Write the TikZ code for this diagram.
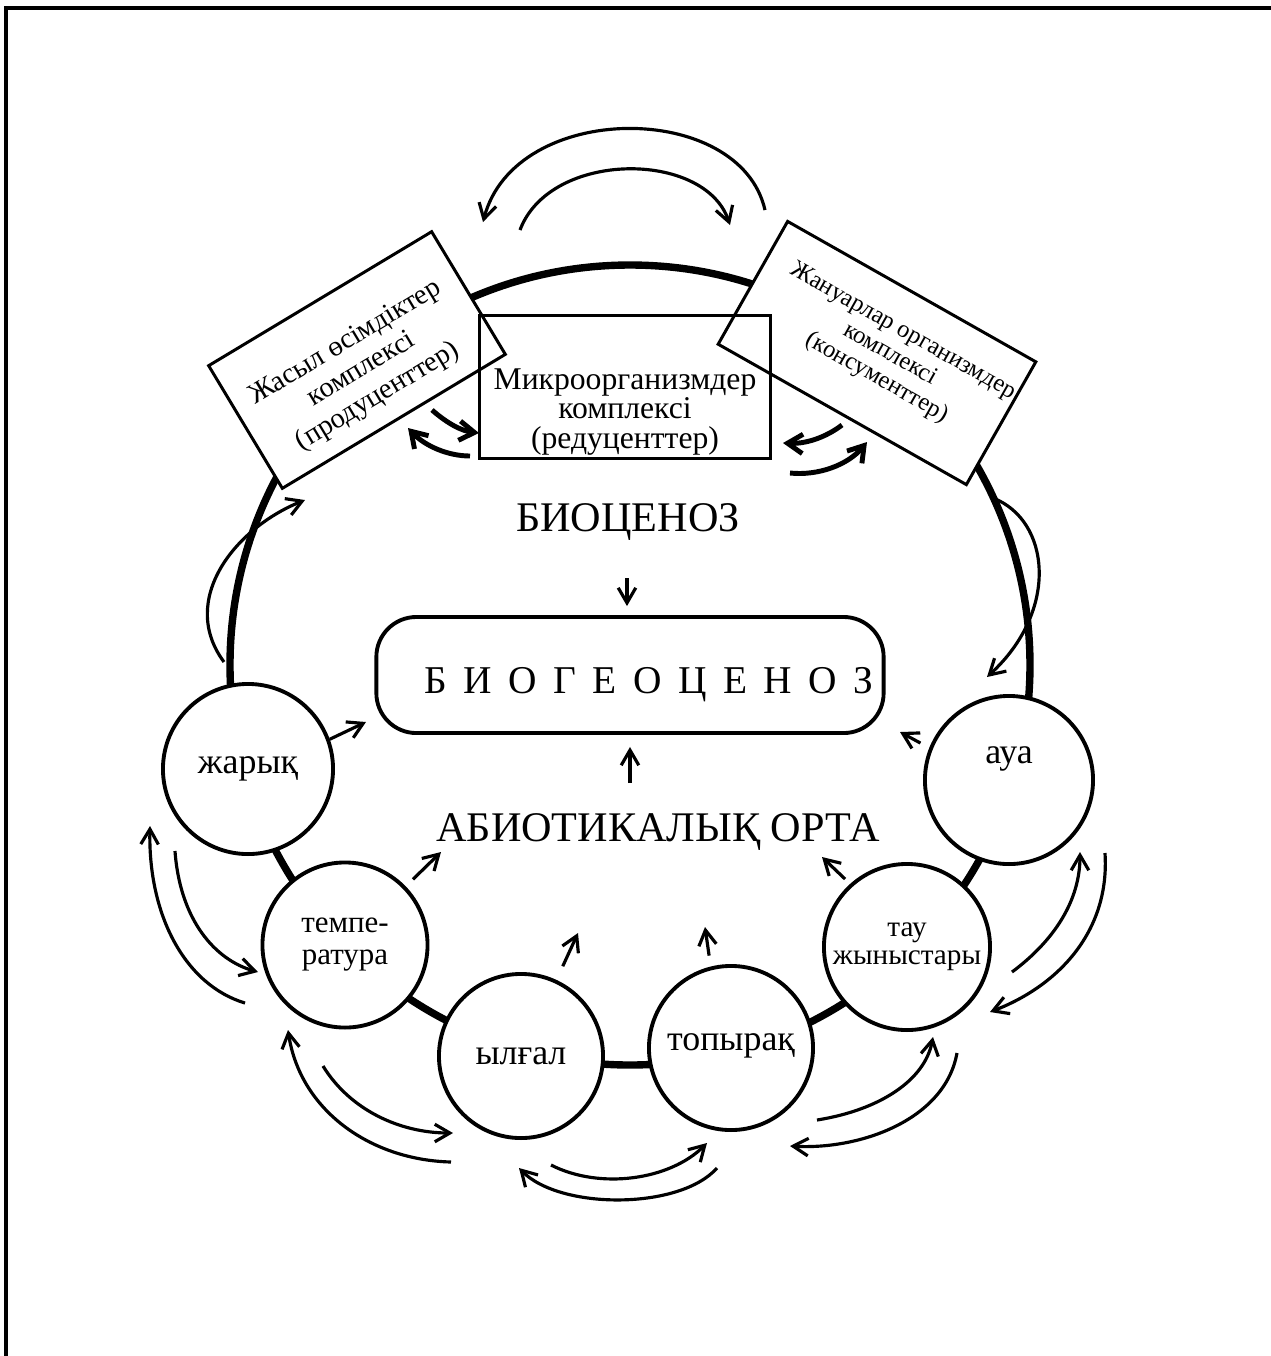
\documentclass[tikz,border=0pt]{standalone}
\usepackage{fontspec}
\setmainfont{Liberation Serif}
\usetikzlibrary{arrows.meta}

\tikzset{
  ring/.style={line width=2.1pt},
  factor/.style={circle, draw, fill=white, line width=1.1pt, inner sep=0pt,
    align=center, font=\rmfamily\fontsize{10.2}{10.2}\selectfont},
  complexbox/.style={rectangle, fill=white, inner sep=0pt, outer sep=0pt},
  boxline/.style={line width=0.85pt, line join=miter},
  boxtext/.style={align=center, inner sep=0pt, font=\rmfamily\fontsize{9}{8.3}\selectfont},
  flow/.style={line width=0.9pt, -{Straight Barb[length=4.3pt,width=5pt]}},
  exchange/.style={line width=1.4pt, -{Straight Barb[length=4.3pt,width=5.5pt]}},
  heading/.style={font=\rmfamily\fontsize{12}{14}\selectfont, inner sep=0pt},
}

\begin{document}
\begin{tikzpicture}[x=0.01cm, y=-0.01cm]
\useasboundingbox (0,0) rectangle (1271,1356);

% frame, top and left edges
\draw[line width=1.1pt] (1271,8) -- (6,8) -- (6,1356);

% ============================================================
% Ring joining every component of the ecosystem
\draw[ring] (630,665) circle[radius=400];

% Biocenosis: three complexes (white fill first, outlines after, they overlap)
\node[complexbox, rotate=31, minimum width=2.6cm, minimum height=1.43cm] (plantbox) at (357,360) {};
\node[complexbox, minimum width=2.9cm, minimum height=1.42cm] (microbox) at (625,387) {};
\node[complexbox, rotate=-29.5, minimum width=2.85cm, minimum height=1.41cm] (animalbox) at (877,353) {};
\foreach \b in {plantbox, microbox, animalbox}
  \draw[boxline] (\b.north west) -- (\b.north east) -- (\b.south east) -- (\b.south west) -- cycle;

\node[boxtext, rotate=31, font=\rmfamily\fontsize{8.1}{8.9}\selectfont] (planttext) at (362,370)
  {Жасыл өсімдіктер\\комплексі\\(продуценттер)};
\node[boxtext] (microtext) at (625,412)
  {Микроорганизмдер\\комплексі\\(редуценттер)};
\node[boxtext, rotate=-29.5, font=\rmfamily\fontsize{7.0}{7.6}\selectfont] (animaltext) at (890,355)
  {Жануарлар организмдер\\комплексі\\(консументтер)};

% ============================================================
% Abiotic factors on the ring
\node[factor, minimum size=1.7cm] (light) at (248,769) {жарық};
\node[factor, minimum size=1.65cm, font=\rmfamily\fontsize{8.8}{9.1}\selectfont] (temp) at (345,945) {темпе-\\ратура};
\node[factor, minimum size=1.64cm] (moisture) at (521,1056) {ылғал};
\node[factor, minimum size=1.64cm, text height=0.1cm, text depth=0.05cm] (soil) at (731,1048) {топырақ};
\node[factor, minimum size=1.66cm, font=\rmfamily\fontsize{8.3}{8}\selectfont] (rocks) at (907,947) {тау\\жыныстары};
\node[factor, minimum size=1.68cm, text depth=0.5cm] (air) at (1009,780) {ауа};

% Centre: headings and the biogeocenosis
\node[heading] (bioc) at (628,522) {БИОЦЕНОЗ};
\node[draw, line width=1.1pt, rounded corners=0.4cm, minimum width=5.07cm, minimum height=1.16cm,
  text width=4.87cm, inner xsep=0.1cm, align=right, text height=0.36cm, text depth=0cm,
  font=\rmfamily\fontsize{11.2}{12}\selectfont\addfontfeature{LetterSpace=42}] (biogeo) at (630,675) {БИОГЕОЦЕНОЗ};
\node[heading] (abio) at (658,832) {АБИОТИКАЛЫҚ ОРТА};

% ============================================================
% Free arrow ends
\coordinate (downTail) at (627,578);
\coordinate (upTail) at (630,783);
\coordinate (lightTip) at (366,722);
\coordinate (tempTip) at (441,852);
\coordinate (moistTip) at (578,933);
\coordinate (soilTip) at (705,927);
\coordinate (rocksTip) at (822,857);
\coordinate (airTip) at (900,732);

\coordinate (topOutS) at (765,210); \coordinate (topOutE) at (483,222);
\coordinate (topInS) at (520,230);  \coordinate (topInE) at (730,225);
\coordinate (pmS) at (432,410); \coordinate (pmE) at (479,433);
\coordinate (mpS) at (470,456); \coordinate (mpE) at (408,428);
\coordinate (maS) at (842,425); \coordinate (maE) at (783,443);
\coordinate (amS) at (790,473); \coordinate (amE) at (867,442);
\coordinate (llS) at (224,662); \coordinate (llE) at (305,500);
\coordinate (rlS) at (993,498); \coordinate (rlE) at (987,677);

\coordinate (ltA) at (245,1003); \coordinate (ltB) at (150,826);
\coordinate (ltC) at (175,851);  \coordinate (ltD) at (258,972);
\coordinate (tmA) at (451,1162); \coordinate (tmB) at (288,1030);
\coordinate (tmC) at (323,1066); \coordinate (tmD) at (453,1133);
\coordinate (msA) at (551,1165); \coordinate (msB) at (707,1143);
\coordinate (msC) at (717,1168); \coordinate (msD) at (519,1168);
\coordinate (srA) at (817,1120); \coordinate (srB) at (933,1037);
\coordinate (srC) at (957,1053); \coordinate (srD) at (790,1146);
\coordinate (raA) at (1012,972); \coordinate (raB) at (1080,852);
\coordinate (raC) at (1105,853); \coordinate (raD) at (990,1012);

% Into the biogeocenosis
\draw[flow, shorten >=0.09cm] (downTail) -- (downTail |- biogeo.north);
\draw[flow, shorten >=0.12cm] (upTail) -- (upTail |- biogeo.south);
\draw[flow] (light.20) -- (lightTip);
\draw[flow, shorten <=0.1cm] (temp.44) -- (tempTip);
\draw[flow, shorten <=0.15cm] (moisture.65) -- (moistTip);
\draw[flow, shorten <=0.11cm] (soil.104) -- (soilTip);
\draw[flow, shorten <=0.07cm] (rocks.132) -- (rocksTip);
\draw[flow, shorten <=0.1cm] (air.158) -- (airTip);

% Exchanges inside the biocenosis
\draw[flow] (topOutS) .. controls (740,100) and (515,100) .. (topOutE);
\draw[flow] (topInS) .. controls (550,150) and (705,150) .. (topInE);
\draw[exchange] (pmS) .. controls (448,424) and (462,431) .. (pmE);
\draw[exchange] (mpS) .. controls (448,456) and (425,446) .. (mpE);
\draw[exchange] (maS) .. controls (825,438) and (805,444) .. (maE);
\draw[exchange] (amS) .. controls (818,476) and (848,465) .. (amE);

% Loops between biocenosis and abiotic side
\draw[flow] (llS) .. controls (178,600) and (235,528) .. (llE);
\draw[flow] (rlS) .. controls (1050,520) and (1060,610) .. (rlE);

% Exchanges between neighbouring abiotic factors
\draw[flow] (ltA) .. controls (185,985) and (148,915) .. (ltB);
\draw[flow] (ltC) .. controls (180,920) and (215,960) .. (ltD);
\draw[flow] (tmA) .. controls (370,1160) and (300,1110) .. (tmB);
\draw[flow] (tmC) .. controls (350,1110) and (400,1133) .. (tmD);
\draw[flow] (msA) .. controls (600,1190) and (670,1180) .. (msB);
\draw[flow] (msC) .. controls (680,1210) and (560,1210) .. (msD);
\draw[flow] (srA) .. controls (880,1110) and (925,1080) .. (srB);
\draw[flow] (srC) .. controls (945,1120) and (860,1150) .. (srD);
\draw[flow] (raA) .. controls (1055,940) and (1080,900) .. (raB);
\draw[flow] (raC) .. controls (1110,930) and (1060,985) .. (raD);

\end{tikzpicture}
\end{document}
